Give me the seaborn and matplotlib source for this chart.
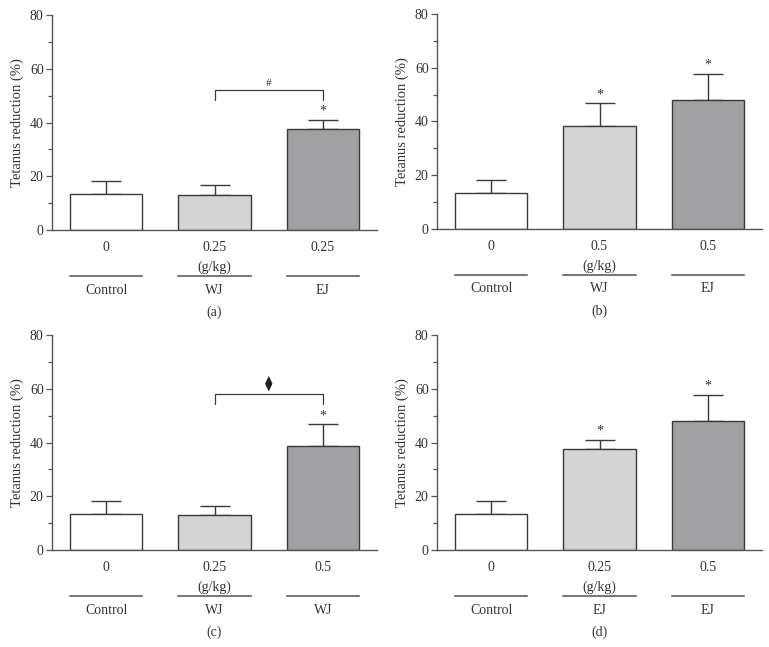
import numpy as np
import pandas as pd
import seaborn as sns
import matplotlib.pyplot as plt
from matplotlib import transforms

# data per panel
groups = ["Control", "WJ", "EJ"]
panel_letters = ["(a)", "(b)", "(c)", "(d)"]
group_labels = [
    ["Control", "WJ", "EJ"],
    ["Control", "WJ", "EJ"],
    ["Control", "WJ", "WJ"],
    ["Control", "EJ", "EJ"],
]
dose_labels = [
    ["0", "0.25", "0.25"],
    ["0", "0.5", "0.5"],
    ["0", "0.25", "0.5"],
    ["0", "0.25", "0.5"],
]
means = [
    [13.5, 13.0, 37.5],
    [13.5, 38.5, 48.0],
    [13.5, 13.0, 38.7],
    [13.5, 37.5, 48.0],
]
upper_err = [
    [4.7, 3.6, 3.5],
    [4.7, 8.2, 9.7],
    [4.7, 3.5, 8.0],
    [4.7, 3.5, 9.7],
]
stars = [
    [False, False, True],
    [False, True, True],
    [False, False, True],
    [False, True, True],
]
# (symbol, bracket height) comparing bar 1 and bar 2
brackets = [("#", 52.0), None, ("\u29eb", 58.0), None]

bar_colors = ["#ffffff", "#d4d4d4", "#a19fa4"]
edge = "#3a3a3a"
axis_col = "#555555"

sns.set_style("ticks")
plt.rcParams["font.family"] = ["Liberation Serif", "DejaVu Serif"]
plt.rcParams["axes.edgecolor"] = axis_col

fig = plt.figure(figsize=(7.69, 6.47), dpi=100)
W, H = 769, 647
boxes = [(52, 15), (437, 14), (52, 335), (437, 335)]
aw, ah = 325, 215

for i, (x0, y0) in enumerate(boxes):
    ax = fig.add_axes([x0 / W, 1 - (y0 + ah) / H, aw / W, ah / H])
    df = pd.DataFrame({"group": groups, "value": means[i]})
    sns.barplot(data=df, x="group", y="value", hue="group", palette=bar_colors,
                width=0.67, edgecolor=edge, linewidth=1.0, legend=False, ax=ax,
                errorbar=None)
    xs = np.arange(len(groups))
    ax.errorbar(xs, means[i], yerr=[np.zeros(3), upper_err[i]], fmt="none",
                ecolor=edge, elinewidth=1.0, capsize=11, capthick=1.0, zorder=1)
    for p in ax.patches:
        p.set_zorder(2)

    ax.set_xlim(-0.5, 2.5)
    ax.set_ylim(0, 80)
    ax.set_yticks([0, 20, 40, 60, 80])
    ax.set_yticks([10, 30, 50, 70], minor=True)
    ax.tick_params(axis="y", which="major", length=4, width=0.9, colors=axis_col,
                   labelsize=10, labelcolor="#333333", pad=2)
    ax.tick_params(axis="y", which="minor", length=3, width=0.9, colors=axis_col)
    ax.set_xticks(xs)
    ax.set_xticklabels(dose_labels[i])
    ax.tick_params(axis="x", length=0, labelsize=10, labelcolor="#333333", pad=8)
    ax.set_xlabel("")
    ax.set_ylabel("Tetanus reduction (%)", fontsize=10.5, color="#333333", labelpad=4)
    sns.despine(ax=ax)
    for s in ["left", "bottom"]:
        ax.spines[s].set_linewidth(1.0)

    # significance stars
    for j in range(3):
        if stars[i][j]:
            ax.text(xs[j], means[i][j] + upper_err[i][j] + 0.8, "*", ha="center",
                    va="bottom", fontsize=10, color="#333333")

    if brackets[i] is not None:
        sym, yb = brackets[i]
        ax.plot([1, 1, 2, 2], [yb - 3.5, yb, yb, yb - 3.5], color=edge, lw=0.9)
        if sym == "#":
            ax.text(1.5, yb + 1.0, sym, ha="center", va="bottom", fontsize=8,
                    color="#333333")
        else:
            ax.text(1.5, yb + 1.0, sym, ha="center", va="bottom", fontsize=11,
                    color="#222222", family=["DejaVu Sans"])

    # group annotation below the axis
    trans = transforms.blended_transform_factory(ax.transData, ax.transAxes)
    ax.text(1, -37 / ah, "(g/kg)", transform=trans, ha="center", va="center",
            fontsize=10, color="#333333")
    for j, p in enumerate(ax.patches):
        xl = p.get_x()
        xr = xl + p.get_width()
        ax.plot([xl, xr], [-46 / ah, -46 / ah], transform=trans, color="#7a7a7a",
                lw=1.5, clip_on=False)
        ax.text(xs[j], -60 / ah, group_labels[i][j], transform=trans, ha="center",
                va="center", fontsize=10, color="#333333")
    ax.text(1, -82 / ah, panel_letters[i], transform=trans, ha="center",
            va="center", fontsize=10, color="#333333")

fig.savefig("out.png", dpi=100)
